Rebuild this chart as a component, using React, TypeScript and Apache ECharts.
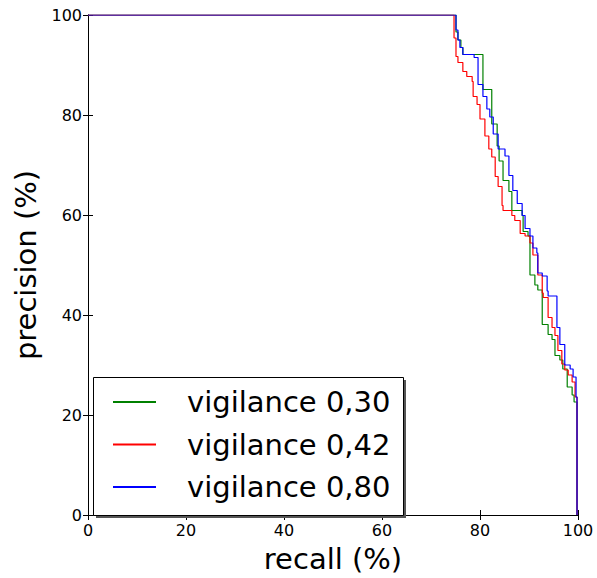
import React, { useEffect, useRef } from "react";
import * as echarts from "echarts";

const seriesNames = ["vigilance 0,30", "vigilance 0,42", "vigilance 0,80"];
const seriesColors = ["#008000", "#ff0000", "#0000ff"];

const recallG = [0, 75.1, 75.5, 76.1, 76.5, 80.6, 82.4, 83.5, 83.9, 84.7, 85.9, 86.5, 88.6, 88.8, 89.8, 90.2, 91.2, 91.8, 92.7, 93.9, 94.7, 95.3, 96.3, 96.9, 97.8, 98.8, 99.2, 99.8];
const precG = [100, 96.6, 95.0, 93.5, 92.1, 85.1, 78.2, 73.8, 70.8, 66.9, 64.7, 60.9, 59.9, 56.7, 55.8, 48.0, 46.0, 45.0, 38.1, 36.1, 35.1, 31.9, 31.0, 29.2, 25.6, 24.0, 22.6, 0];

const recallR = [0, 74.7, 75.1, 75.5, 76.5, 77.3, 78.4, 78.6, 79.4, 80.0, 81.0, 81.8, 82.4, 83.1, 83.7, 84.5, 84.7, 86.5, 87.1, 88.2, 89.2, 90.2, 90.8, 91.8, 92.7, 92.9, 93.9, 94.7, 95.3, 95.9, 96.7, 97.3, 98.0, 98.8, 99.4, 99.8];
const precR = [100, 95.4, 91.7, 90.5, 88.7, 87.7, 86.7, 83.7, 82.1, 79.2, 75.8, 73.2, 71.6, 67.7, 65.7, 61.9, 60.9, 59.9, 58.9, 56.3, 55.8, 54.4, 52.0, 48.0, 44.4, 43.5, 39.5, 37.5, 35.9, 32.9, 30.2, 29.0, 28.0, 26.6, 23.6, 0];

const recallB = [0, 75.1, 75.5, 75.9, 76.5, 78.8, 79.6, 80.6, 81.4, 82.0, 82.7, 83.7, 85.1, 85.9, 86.7, 87.6, 88.6, 89.2, 90.2, 90.8, 91.6, 91.8, 92.7, 93.7, 93.9, 95.7, 96.3, 97.3, 98.4, 99.0, 99.6, 99.8];
const precB = [100, 97.0, 95.0, 93.5, 92.1, 91.5, 86.1, 83.7, 81.2, 79.6, 76.2, 73.2, 71.8, 67.9, 64.9, 62.3, 59.9, 57.3, 55.8, 53.4, 52.4, 48.4, 47.8, 44.8, 43.8, 37.5, 34.1, 30.0, 29.2, 27.6, 23.6, 0];

const recalls = [recallG, recallR, recallB];
const precisions = [precG, precR, precB];

const xTicks = [0, 20, 40, 60, 80, 100];
const yTicks = [0, 20, 40, 60, 80, 100];

export default function App() {
  const ref = useRef<HTMLDivElement>(null);
  useEffect(() => {
    document.body.style.margin = "0";
    const chart = echarts.init(ref.current!, null, { renderer: "svg" });
    const font = "DejaVu Sans";
    const axisCommon = {
      min: xTicks[0],
      max: xTicks[xTicks.length - 1],
      interval: xTicks[1] - xTicks[0],
      splitLine: { show: false },
      axisLine: { show: true, lineStyle: { color: "#000", width: 1 } },
      axisTick: { show: true, inside: true, length: 5, lineStyle: { color: "#000", width: 1 } },
    };
    chart.setOption({
      animation: false,
      textStyle: { fontFamily: font },
      grid: { left: 88, top: 15, width: 490, height: 504, containLabel: false },
      xAxis: [
        {
          type: "value",
          ...axisCommon,
          position: "bottom",
          axisLabel: { color: "#000", fontSize: 16, margin: 7, fontFamily: font },
          name: "recall (%)",
          nameLocation: "middle",
          nameGap: 29,
          nameTextStyle: { color: "#000", fontSize: 29, fontFamily: font },
        },
        {
          type: "value",
          ...axisCommon,
          position: "top",
          axisLabel: { show: false },
        },
      ],
      yAxis: [
        {
          type: "value",
          ...axisCommon,
          min: yTicks[0],
          max: yTicks[yTicks.length - 1],
          interval: yTicks[1] - yTicks[0],
          position: "left",
          axisLabel: { color: "#000", fontSize: 16, margin: 6, fontFamily: font },
          name: "precision (%)",
          nameLocation: "middle",
          nameGap: 46,
          nameRotate: 90,
          nameTextStyle: { color: "#000", fontSize: 29, fontFamily: font },
        },
        {
          type: "value",
          ...axisCommon,
          min: yTicks[0],
          max: yTicks[yTicks.length - 1],
          interval: yTicks[1] - yTicks[0],
          position: "right",
          axisLabel: { show: false },
        },
      ],
      legend: {
        left: 113,
        top: 387,
        orient: "vertical",
        data: seriesNames,
        icon: "rect",
        itemWidth: 43,
        itemHeight: 2,
        itemGap: 12.5,
        padding: 0,
        backgroundColor: "transparent",
        borderWidth: 0,
        z: 10,
        textStyle: { color: "#000", fontSize: 29, lineHeight: 30, fontFamily: font, padding: [0, 0, 0, 26] },
      },
      graphic: [
        {
          type: "rect",
          left: 96,
          top: 380,
          shape: { width: 310, height: 138 },
          style: { fill: "#555" },
          z: 5,
        },
        {
          type: "rect",
          left: 93,
          top: 377,
          shape: { width: 310, height: 138 },
          style: { fill: "#fff", stroke: "#000", lineWidth: 1 },
          z: 6,
        },
      ],
      series: seriesNames.map((name, i) => ({
        name,
        type: "line",
        step: "end",
        xAxisIndex: 0,
        yAxisIndex: 0,
        showSymbol: false,
        symbol: "none",
        color: seriesColors[i],
        lineStyle: { color: seriesColors[i], width: 1.2 },
        data: recalls[i].map((r, j) => [r, precisions[i][j]]),
      })),
    });
    return () => chart.dispose();
  }, []);
  return <div ref={ref} style={{ width: 597, height: 578, position: "absolute", left: 0, top: 0 }} />;
}
